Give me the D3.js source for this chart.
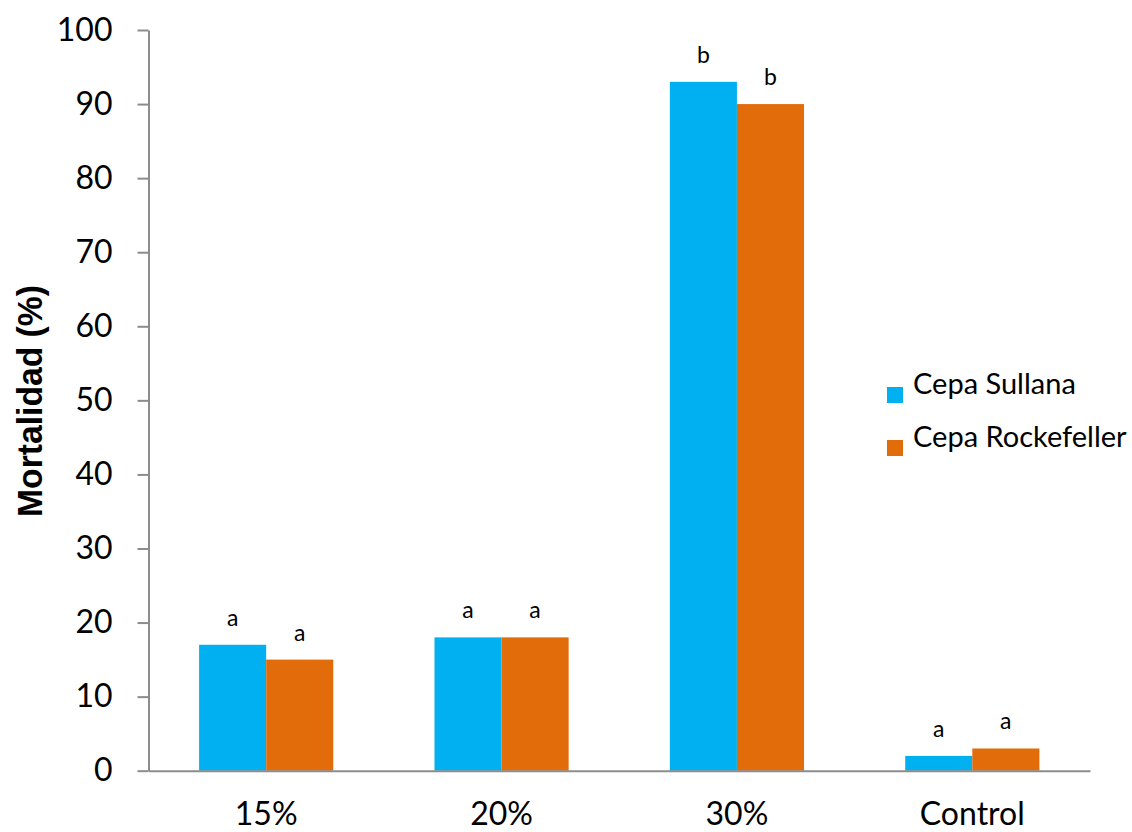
<!DOCTYPE html>
<html><head><meta charset="utf-8">
<script src="https://cdn.jsdelivr.net/npm/d3@7"></script>
<style>body{margin:0;background:#fff}</style>
</head><body><svg id="c" width="1132" height="832"></svg>
<script>
const categories = ["15%", "20%", "30%", "Control"];
const seriesNames = ["Cepa Sullana", "Cepa Rockefeller"];
const sullana = [17, 18, 93, 2];
const rockefeller = [15, 18, 90, 3];
const sullanaLetters = ["a", "a", "b", "a"];
const rockefellerLetters = ["a", "a", "b", "a"];
const yTicks = [0, 10, 20, 30, 40, 50, 60, 70, 80, 90, 100];
const colors = ["#00B0F0", "#E36C0A"];

const svg = d3.select("#c");
const font = "Lato, 'Open Sans', sans-serif";
const m = {l: 148.5, r: 1090, t: 30, b: 770.7};
const y = d3.scaleLinear().domain([0, 100]).range([m.b, m.t]);
const x0 = d3.scaleBand().domain(categories).range([m.l, m.r]).paddingInner(0.43).paddingOuter(0.215);
const x1 = d3.scaleBand().domain(seriesNames).range([0, x0.bandwidth()]);

const data = categories.map((c, i) => ({c, vals: [sullana[i], rockefeller[i]], lets: [sullanaLetters[i], rockefellerLetters[i]]}));

const g = svg.append("g");
const grp = g.selectAll("g.cat").data(data).enter().append("g").attr("transform", d => `translate(${x0(d.c)},0)`);
grp.selectAll("rect").data(d => d.vals.map((v, j) => ({v, s: seriesNames[j], j}))).enter().append("rect")
  .attr("x", d => x1(d.s)).attr("width", x1.bandwidth())
  .attr("y", d => y(d.v)).attr("height", d => y(0) - y(d.v))
  .attr("fill", d => colors[d.j]);
grp.selectAll("text").data(d => d.vals.map((v, j) => ({v, s: seriesNames[j], l: d.lets[j]}))).enter().append("text")
  .attr("x", d => x1(d.s) + x1.bandwidth() / 2).attr("y", d => y(d.v) - 19)
  .attr("text-anchor", "middle").attr("font-family", font).attr("font-size", 23).attr("fill", "#000").text(d => d.l);

// y axis
const ya = svg.append("g").attr("transform", `translate(${m.l},0)`)
  .call(d3.axisLeft(y).tickValues(yTicks).tickSize(11).tickPadding(25).tickSizeOuter(0));
ya.select(".domain").attr("stroke", "#8c8c8c").attr("stroke-width", 2);
ya.selectAll(".tick line").attr("stroke", "#8c8c8c").attr("stroke-width", 2);
ya.selectAll(".tick text").attr("font-family", font).attr("font-size", 32).attr("fill", "#000");

// x axis
const xa = svg.append("g").attr("transform", `translate(0,${m.b})`)
  .call(d3.axisBottom(x0).tickSize(0).tickPadding(32).tickSizeOuter(0));
xa.select(".domain").attr("stroke", "#8c8c8c").attr("stroke-width", 2);
xa.selectAll(".tick text").attr("font-family", font).attr("font-size", 32).attr("fill", "#000");

// y title
svg.append("text").attr("transform", `translate(42,401) rotate(-90)`).attr("text-anchor", "middle")
  .attr("font-family", "'Liberation Sans', Arial, sans-serif").attr("font-weight", "bold").attr("font-size", 35)
  .attr("textLength", 232).attr("lengthAdjust", "spacingAndGlyphs").attr("fill", "#000").text("Mortalidad (%)");

// legend
const lg = svg.append("g").selectAll("g").data(seriesNames).enter().append("g")
  .attr("transform", (d, i) => `translate(887,${387 + i * 53})`);
lg.append("rect").attr("width", 16).attr("height", 16).attr("fill", (d, i) => colors[i]);
lg.append("text").attr("x", 26).attr("y", 7).attr("font-family", font).attr("font-size", 29).attr("fill", "#000").text(d => d);
</script></body></html>
